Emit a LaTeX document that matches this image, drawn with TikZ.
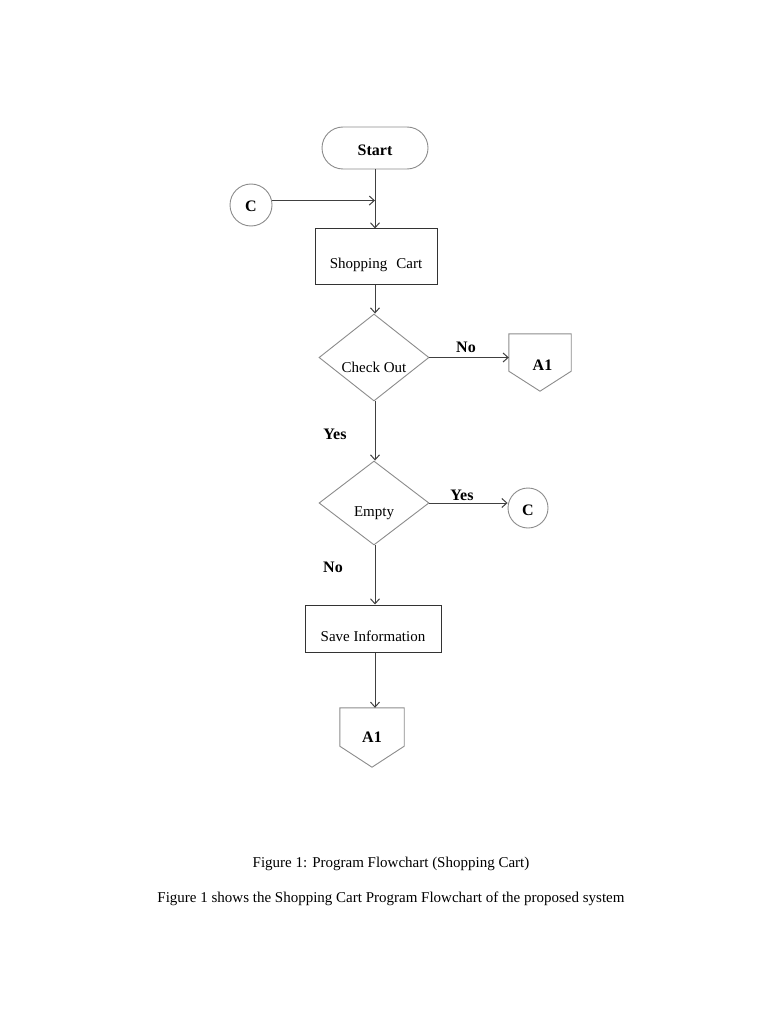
\documentclass[tikz,border=0pt]{standalone}
\usepackage{fontspec}
\setmainfont{Liberation Serif}
\usetikzlibrary{shapes.geometric,arrows.meta,calc}
\begin{document}
\begin{tikzpicture}[x=1pt,y=-1pt,
  lbl/.style={font=\fontsize{15}{18}\selectfont},
  big/.style={font=\fontsize{16}{19}\selectfont\bfseries},
  greyline/.style={draw=black!45, line width=0.9pt},
  dark/.style={draw=black!80, line width=1pt},
  flow/.style={draw=black!75, line width=1pt, -{Straight Barb[length=5pt,width=9pt]}},
  down/.style={text height=#1, text depth=0pt},
  proc/.style={dark, rectangle, inner sep=0pt, lbl},
  decision/.style={greyline, diamond, inner sep=0pt, aspect=1.26, lbl},
  conn/.style={greyline, circle, minimum size=42pt, inner sep=0pt, big},
  offpage/.style={rectangle, inner sep=0pt, big},
]
\fill[white] (0,0) rectangle (768,1024);
\useasboundingbox (0,0) rectangle (768,1024);

% nodes
\node[greyline, rounded corners=21pt, minimum width=106pt, minimum height=42pt, inner sep=0pt, big, down=15pt] (start) at (375,148) {Start};
\node[conn, down=14pt] (cl) at (251,205) {C};
\node[proc, minimum width=122pt, minimum height=55pt, down=24pt] (sc) at (376,256.5) {Shopping\hspace{0.35em} Cart};
\node[decision, minimum width=110pt, minimum height=87pt, down=30pt] (ck) at (374,357.5) {Check Out};
\node[offpage, minimum width=62pt, minimum height=57pt, down=15pt] (a1r) at (540,362.5) {\hspace{5pt}A1};
\node[decision, minimum width=110pt, minimum height=84pt, down=27pt] (em) at (374,503) {Empty};
\node[conn, minimum size=40pt, down=14pt] (cr) at (528,508) {C};
\node[proc, minimum width=136pt, minimum height=47pt, down=26pt] (si) at (373,628.5) {Save Information};
\node[offpage, minimum width=64pt, minimum height=59pt] (a1b) at (372,737.5) {A1};

% off-page connector outlines
\draw[greyline] (a1r.north west) -- (a1r.north east) -- ([yshift=20pt]a1r.south east) -- (a1r.south) -- ([yshift=20pt]a1r.south west) -- cycle;
\draw[greyline] (a1b.north west) -- (a1b.north east) -- ([yshift=21pt]a1b.south east) -- (a1b.south) -- ([yshift=21pt]a1b.south west) -- cycle;

% labels
\node[big] (no1) at (466,347) {No};
\node[big] (yes1) at (335,434) {Yes};
\node[big] (yes2) at (462,495) {Yes};
\node[big] (no2) at (333,567) {No};

% connectors
\draw[flow] (start.south) -- (start.south |- sc.north);
\draw[flow] (cl.12) -- (cl.12 -| start.south);
\draw[flow] (sc.south -| start.south) -- (start.south |- ck.north);
\draw[flow] (ck.east) -- (ck.east -| a1r.west);
\draw[flow] (start.south |- ck.south) -- (start.south |- em.north);
\draw[flow] (em.east) -- (em.east -| cr.west);
\draw[flow] (start.south |- em.south) -- (start.south |- si.north);
\draw[flow] (si.south -| start.south) -- (start.south |- a1b.north);

% captions
\node[lbl] (cap1) at (391,864) {Figure 1: Program Flowchart (Shopping Cart)};
\node[lbl] (cap2) at (391,899) {Figure 1 shows the Shopping Cart Program Flowchart of the proposed system};
\end{tikzpicture}
\end{document}
